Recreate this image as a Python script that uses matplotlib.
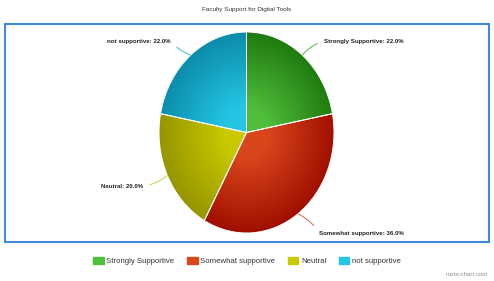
import numpy as np
import matplotlib
matplotlib.use("Agg")
import matplotlib.pyplot as plt
from matplotlib.patches import Rectangle, Patch

# data
categories = ["Strongly Supportive", "Somewhat supportive", "Neutral", "not supportive"]
values = [22.0, 36.0, 20.0, 22.0]
light_colors = ["#50bd3c", "#d8461c", "#c9c900", "#24c6e4"]
dark_colors = ["#1f7a0e", "#a00e00", "#959500", "#0c8cac"]
label_colors = ["#5fae4a", "#d0614a", "#c9c94a", "#3fb6d0"]

W, H = 494, 281
fig = plt.figure(figsize=(W / 100, H / 100), dpi=100)
fig.patch.set_facecolor("white")
sans = ["Liberation Sans", "DejaVu Sans"]

# background axes in pixel units (y down)
bg = fig.add_axes([0, 0, 1, 1])
bg.set_xlim(0, W)
bg.set_ylim(H, 0)
bg.axis("off")
bg.add_patch(Rectangle((5, 24), 484, 218, fill=False, ec="#3f8bd6", lw=1.5))
bg.text(247, 10, "Faculty Support for Digital Tools", ha="center", va="center",
        fontsize=4.6, color="#333333", family=sans)
bg.text(488, 275, "meta-chart.com", ha="right", va="center", fontsize=4.4,
        color="#909090", family=sans)

# pie axes (slightly squashed ellipse like the reference)
px0, px1, py0, py1 = 159, 334, 32, 233
ax = fig.add_axes([px0 / W, 1 - py1 / H, (px1 - px0) / W, (py1 - py0) / H])
wedges, _ = ax.pie(values, startangle=90, counterclock=False, radius=1,
                   wedgeprops=dict(fc="none", ec="white", lw=0.7))
ax.set_aspect("auto")
ax.axis("off")

# radial shading: lighter toward the pie centre, darker at the rim
n = 300
g = np.linspace(-1, 1, n)
gx, gy = np.meshgrid(g, g[::-1])
r = np.sqrt(gx ** 2 + gy ** 2)
t = np.clip((r - 0.25) / 0.75, 0, 1)[..., None]
for w, lc, dc in zip(wedges, light_colors, dark_colors):
    c0 = np.array(matplotlib.colors.to_rgb(lc))
    c1 = np.array(matplotlib.colors.to_rgb(dc))
    img = c0 * (1 - t) + c1 * t
    im = ax.imshow(img, extent=(-1, 1, -1, 1), aspect="auto", zorder=0.5,
                   interpolation="bilinear")
    im.set_clip_path(w)
ax.set_xlim(-1, 1)
ax.set_ylim(-1, 1)

# data labels with connectors (text positions in pixels, y down)
label_pos = [(324, 41, "left"), (319, 233, "left"), (143, 186, "right"), (171, 41, "right")]
for w, cat, v, lc, (lx, ly, ha) in zip(wedges, categories, values, label_colors, label_pos):
    mid = np.deg2rad((w.theta1 + w.theta2) / 2)
    ax.annotate(f"{cat}: {v:.1f}%", xy=(np.cos(mid), np.sin(mid)),
                xytext=(lx, H - ly), textcoords="figure pixels",
                ha=ha, va="center", fontsize=4.4, fontweight="bold", color="#222222",
                family=sans,
                arrowprops=dict(arrowstyle="-", color=lc, lw=0.7, shrinkA=3, shrinkB=0,
                                relpos=(0, 0.5) if ha == "left" else (1, 0.5),
                                connectionstyle="arc3,rad=0.15"),
                annotation_clip=False)

handles = [Patch(fc=c, ec=c) for c in light_colors]
fig.legend(handles, categories, loc="center", bbox_to_anchor=(247 / W, 1 - 261 / H),
           ncol=4, frameon=False, handlelength=1.35, handleheight=1.05,
           handletextpad=0.35, columnspacing=1.6, labelcolor="#333333",
           prop=dict(family=sans, size=5.6))

fig.savefig("out.png", dpi=100)
